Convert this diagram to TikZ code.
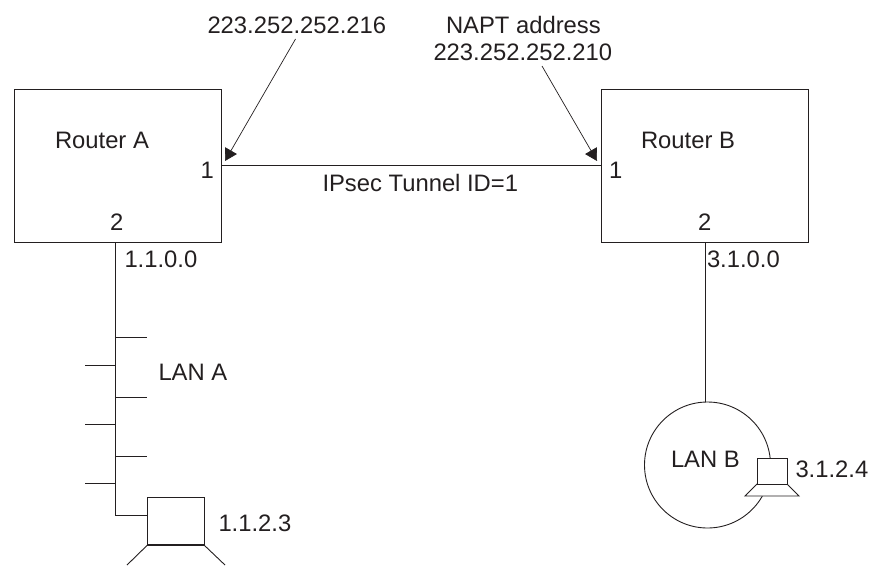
\documentclass[tikz,border=0pt]{standalone}
\usepackage{fontspec}
\setmainfont{Liberation Sans}
\usetikzlibrary{arrows.meta}
\definecolor{ink}{HTML}{231F20}
\tikzset{
  lbl/.style={anchor=base west,inner sep=0pt,outer sep=0pt,text=ink,font=\fontsize{23.8}{28}\selectfont},
  boxnode/.style={draw=ink,line width=0.9pt,fill=white,inner sep=0pt,outer sep=0pt,rectangle},
  wire/.style={draw=ink,line width=0.9pt},
  pointer/.style={draw=ink,line width=0.7pt,-{Triangle[length=12pt,width=13.5pt,fill=ink]}}
}
\begin{document}
\begin{tikzpicture}[x=1pt,y=-1pt]
\useasboundingbox (0,0) rectangle (869,565);
% routers
\node[boxnode,minimum width=207pt,minimum height=153pt] (ra) at (117.5,165.5) {};
\node[boxnode,minimum width=207pt,minimum height=153pt] (rb) at (704.5,165.5) {};
\draw[wire] (ra.east) -- (rb.west);
% router labels
\node[lbl] (ralbl) at (55,148) {Router A};
\node[lbl] (rblbl) at (641,148) {Router B};
\node[lbl] (ra1) at (200.5,178) {1};
\node[lbl] (ra2) at (110,230) {2};
\node[lbl] (rb1) at (609,178) {1};
\node[lbl] (rb2) at (698,230) {2};
\node[lbl] (ranet) at (124.5,267) {1.1.0.0};
\node[lbl] (rbnet) at (707,267) {3.1.0.0};
\node[lbl] (tun) at (322.5,191) {IPsec Tunnel ID=1};
% address labels and pointers
\node[lbl] (addra) at (207.5,33) {223.252.252.216};
\node[lbl] (naptt) at (446,33) {NAPT address};
\node[lbl] (addrb) at (433.5,60) {223.252.252.210};
\coordinate (astart) at (295.5,39);
\coordinate (atip) at (225,161);
\coordinate (bstart) at (542,66);
\coordinate (btip) at (597,161);
\draw[pointer] (astart) -- (atip);
\draw[pointer] (bstart) -- (btip);
% LAN A
\coordinate (abus) at (115.5,242);
\node[boxnode,minimum width=56.5pt,minimum height=48pt] (pca) at (175.75,521) {};
\coordinate (acorner) at (115.5,515);
\draw[wire] (abus) -- (acorner) -- (pca.west |- acorner);
\foreach \yy/\xx in {337/146.5,397/146.5,456/146.5,365/85,424/85,483/85}{
  \coordinate (tick) at (\xx,\yy);
  \draw[wire] (115.5,\yy) -- (tick);
}
\coordinate (alegl) at (127,565);
\coordinate (alegr) at (225,565);
\draw[wire] (pca.south west) -- (alegl);
\draw[wire] (pca.south east) -- (alegr);
\draw[draw=ink,line width=1.2pt] (pca.south west) -- (pca.south east);
\node[lbl] (lana) at (158.5,380) {LAN A};
\node[lbl] (pcaip) at (218.5,531) {1.1.2.3};
% LAN B
\node[draw=ink,line width=0.9pt,circle,inner sep=0pt,outer sep=0pt,minimum size=126pt] (lanb) at (707.5,465) {};
\draw[wire] (705.5,242) -- (lanb.north -| 705.5,0);
\path[fill=white,draw=ink,line width=0.9pt] (757,484) -- (787,484) -- (799,496) -- (745,496) -- cycle;
\node[boxnode,minimum width=30pt,minimum height=26pt] (pcb) at (772,471) {};
\node[lbl] (lbltxt) at (671,467) {LAN B};
\node[lbl] (pcbip) at (795.5,477) {3.1.2.4};
\end{tikzpicture}
\end{document}
